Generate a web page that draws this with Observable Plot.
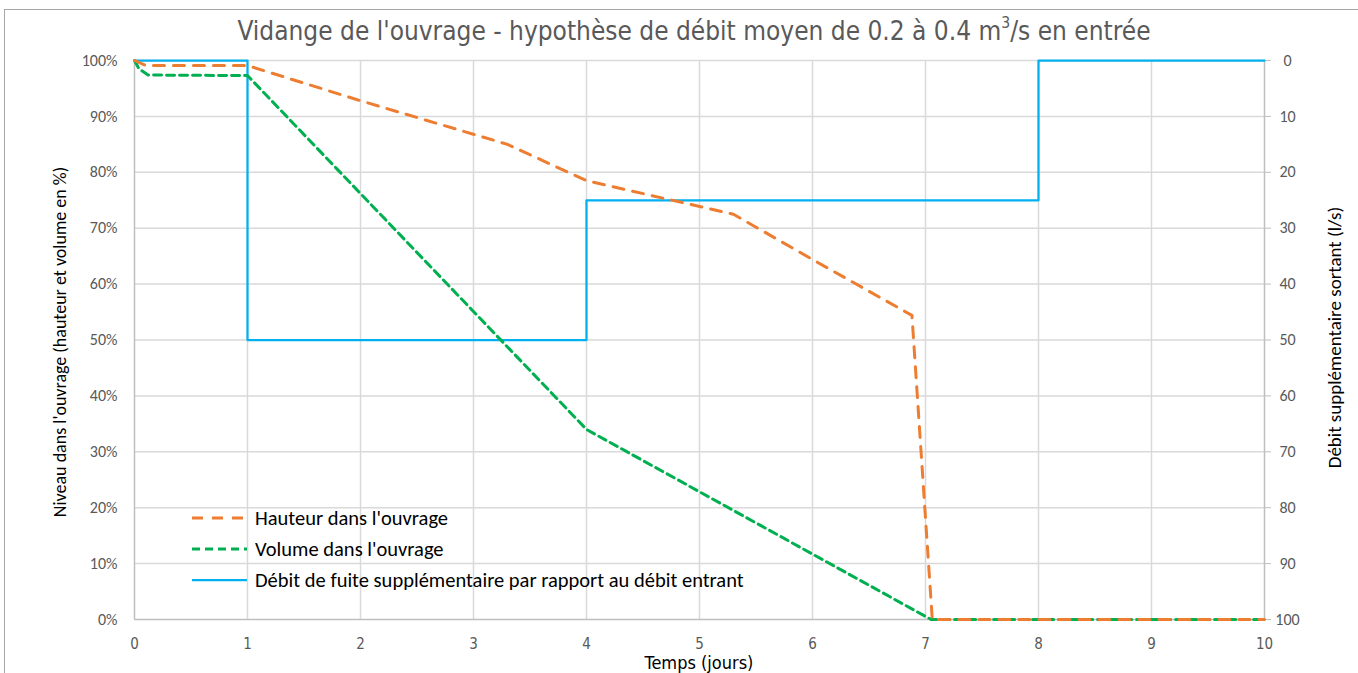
<!DOCTYPE html>
<html>
<head>
<meta charset="utf-8">
<script src="https://cdn.jsdelivr.net/npm/d3@7"></script>
<script src="https://cdn.jsdelivr.net/npm/@observablehq/plot@0.6"></script>
<style>
  html, body { margin:0; padding:0; background:#fff; overflow:hidden; }
  #wrap { position:relative; width:1358px; height:673px; overflow:hidden; }
  #frame { position:absolute; left:4px; top:9px; width:1400px; height:700px; border:1px solid #a6a6a6; box-sizing:border-box; }
  #chart { position:absolute; left:0; top:0; }
  .narrow { font-family:"Liberation Sans Narrow","DejaVu Sans Condensed","Arial Narrow","DejaVu Sans",sans-serif; }
  .cal { font-family:Carlito,Lato,"Open Sans",sans-serif; }
  #title { position:absolute; left:15px; width:1358px; top:16px; text-align:center; font-size:26px; color:#595959; white-space:nowrap; }
  #xlabel { position:absolute; left:0; width:1398px; top:652px; text-align:center; font-size:18px; line-height:21px; color:#000; white-space:nowrap; }
  .ylab { position:absolute; color:#000; white-space:nowrap; transform-origin:center center; }
  #legend { position:absolute; left:190px; top:505px; }
  .item { position:absolute; left:0; height:26px; display:flex; align-items:center; white-space:nowrap; font-size:20.5px; color:#000; }
  .item svg { width:60px; height:10px; margin-right:5px; flex:none; }
</style>
</head>
<body>
<div id="wrap">
  <div id="frame"></div>
  <div id="chart"></div>
  <div id="title" class="narrow">Vidange de l'ouvrage - hypothèse de débit moyen de 0.2 à 0.4 m<sup style="font-size:0.6em;vertical-align:0.75em;line-height:0">3</sup>/s en entrée</div>
  <div id="xlabel" class="narrow">Temps (jours)</div>
  <div id="ylabL" class="ylab cal" style="font-size:18px">Niveau dans l'ouvrage (hauteur et volume en %)</div>
  <div id="ylabR" class="ylab cal" style="font-size:19px">Débit supplémentaire sortant (l/s)</div>
  <div id="legend" class="cal"></div>
</div>
<script>
// ---- data ----
const hauteurT = [0, 0.1, 1, 2, 3.3, 4, 5.3, 6, 6.88, 7.06, 10];
const hauteurV = [100, 99.1, 99.1, 92.8, 85, 78.5, 72.5, 64.4, 54.4, 0, 0];
const volumeT = [0, 0.04, 0.12, 1, 4, 7.05, 10];
const volumeV = [100, 98.5, 97.4, 97.3, 34, 0, 0];
const debitT = [0, 1, 1, 4, 4, 8, 8, 10];
const debitV = [0, 0, 50, 50, 25, 25, 0, 0];
const xTicks = [0, 1, 2, 3, 4, 5, 6, 7, 8, 9, 10];
const yTicks = [0, 10, 20, 30, 40, 50, 60, 70, 80, 90, 100];
const rightTicks = [0, 10, 20, 30, 40, 50, 60, 70, 80, 90, 100];
const seriesNames = ["Hauteur dans l'ouvrage", "Volume dans l'ouvrage", "Débit de fuite supplémentaire par rapport au débit entrant"];
const colors = ["#ED7D31", "#00B050", "#00B0F0"];
const dashes = ["11,9", "8,5", null];

const hauteur = hauteurT.map((t, i) => ({t, v: hauteurV[i]}));
const volume = volumeT.map((t, i) => ({t, v: volumeV[i]}));
const debit = debitT.map((t, i) => ({t, v: debitV[i]}));
const rightMax = 100;

const chart = Plot.plot({
  width: 1358, height: 673,
  marginLeft: 134, marginRight: 94, marginTop: 60, marginBottom: 54,
  x: {domain: [0, 10]},
  y: {domain: [0, 100]},
  style: {background: "transparent", overflow: "visible"},
  marks: [
    Plot.ruleX(xTicks.slice(1, -1), {stroke: "#d9d9d9", strokeWidth: 1.5}),
    Plot.ruleY(yTicks.slice(1), {stroke: "#d9d9d9", strokeWidth: 1.5}),
    Plot.ruleX([0, 10], {stroke: "#bfbfbf", strokeWidth: 1.5}),
    Plot.ruleY([0], {stroke: "#bfbfbf", strokeWidth: 1.5}),
    Plot.axisX(xTicks, {tickSize: 0, tickPadding: 19, label: null, fontSize: 15, color: "#595959", fontFamily: "'Liberation Sans Narrow','DejaVu Sans Condensed','DejaVu Sans',sans-serif"}),
    Plot.axisY(yTicks, {anchor: "left", tickSize: 0, tickPadding: 17, label: null, tickFormat: d => d + "%", fontSize: 16, color: "#595959", fontFamily: "Carlito,Lato,sans-serif"}),
    Plot.axisY(rightTicks.map(d => rightMax - d), {anchor: "right", tickSize: 6, tickPadding: 17, label: null, tickFormat: d => rightMax - d, textAnchor: "middle", fontSize: 16, color: "#595959", stroke: "#bfbfbf", fontFamily: "Carlito,Lato,sans-serif"}),
    Plot.line(debit, {x: "t", y: d => rightMax - d.v, stroke: colors[2], strokeWidth: 2.25}),
    Plot.line(volume, {x: "t", y: "v", stroke: colors[1], strokeWidth: 3, strokeDasharray: dashes[1]}),
    Plot.line(hauteur, {x: "t", y: "v", stroke: colors[0], strokeWidth: 3, strokeDasharray: dashes[0]}),
  ]
});
document.getElementById("chart").appendChild(chart);
chart.querySelectorAll("text").forEach(t => { t.setAttribute("stroke", "none"); });

// axis titles
const L = document.getElementById("ylabL");
L.style.left = (60 - L.offsetWidth / 2) + "px";
L.style.top = (342 - L.offsetHeight / 2) + "px";
L.style.transform = "rotate(-90deg)";
const R = document.getElementById("ylabR");
R.style.left = (1335 - R.offsetWidth / 2) + "px";
R.style.top = (337 - R.offsetHeight / 2) + "px";
R.style.transform = "rotate(-90deg)";

// legend
const leg = document.getElementById("legend");
seriesNames.forEach((name, i) => {
  const div = document.createElement("div");
  div.className = "item";
  div.style.top = (i * 31) + "px";
  const dash = dashes[i] ? `stroke-dasharray="${dashes[i]}"` : "";
  const w = dashes[i] ? 3 : 2.25;
  div.innerHTML = `<svg viewBox="0 0 60 10"><line x1="2" y1="5" x2="57" y2="5" stroke="${colors[i]}" stroke-width="${w}" ${dash}/></svg><span>${name}</span>`;
  leg.appendChild(div);
});
</script>
</body>
</html>
